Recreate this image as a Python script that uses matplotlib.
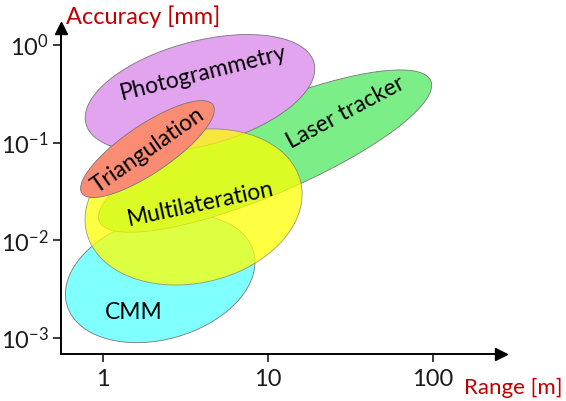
import matplotlib
matplotlib.use("Agg")
import matplotlib.pyplot as plt
import numpy as np

plt.rcParams["font.family"] = ["Lato", "DejaVu Sans"]
plt.rcParams["mathtext.fontset"] = "custom"
plt.rcParams["mathtext.rm"] = "Lato"
plt.rcParams["mathtext.it"] = "Lato:italic"

# measurement techniques: centre of each region (range in m, accuracy in mm)
techniques = ["CMM", "Laser tracker", "Photogrammetry", "Multilateration", "Triangulation"]
center_range = [2.22, 9.6, 3.87, 3.54, 1.86]
center_accuracy = [0.0041, 0.082, 0.32, 0.022, 0.086]

# axis ticks (decades)
x_decades = [0, 1, 2]
x_tick_labels = ["1", "10", "100"]
y_decades = [0, -1, -2, -3]

# region shape: semi-axes in pixels and tilt in degrees
semi_major = [97, 180, 118, 110, 79]
semi_minor = [61, 44, 52, 76, 24]
tilt = [16, 23, 15, 13, 34]
face_colors = ["#80ffff", "#7cee87", "#e2a3ef", "#ffff00", "#fa8c73"]
face_alpha = [1.0, 1.0, 1.0, 0.74, 1.0]
label_angle = [0, 28, 14, 12, 35]
label_offset = [(-26, -34), (80, 38), (3, 20), (7, 3), (0, -1)]

W, H = 566, 401
fig = plt.figure(figsize=(W / 100, H / 100), dpi=100)
ax = fig.add_axes([61 / W, 1 - 354 / H, (501 - 61) / W, (354 - 28) / H])
ax.set_xlim(-0.2545, (501 - 103) / 165)
ax.set_ylim(-3.163, (45 - 28) / 97.7)

# pixels per decade on each axis
p0 = ax.transData.transform((0, 0))
p1 = ax.transData.transform((1, 1))
sx, sy = p1 - p0

t = np.linspace(0, 2 * np.pi, 300)
for i, name in enumerate(techniques):
    cu, cv = np.log10(center_range[i]), np.log10(center_accuracy[i])
    th = np.deg2rad(tilt[i])
    a, b = semi_major[i], semi_minor[i]
    dx = a * np.cos(t) * np.cos(th) - b * np.sin(t) * np.sin(th)
    dy = a * np.cos(t) * np.sin(th) + b * np.sin(t) * np.cos(th)
    ax.fill(cu + dx / sx, cv + dy / sy, facecolor=face_colors[i], alpha=face_alpha[i],
            edgecolor="#777777", linewidth=0.6, zorder=2 + i)

for i, name in enumerate(techniques):
    cu, cv = np.log10(center_range[i]), np.log10(center_accuracy[i])
    ox, oy = label_offset[i]
    ax.text(cu + ox / sx, cv + oy / sy, name, rotation=label_angle[i],
            rotation_mode="anchor", ha="center", va="center", fontsize=16.5,
            color="black", zorder=10)

for side in ["top", "right"]:
    ax.spines[side].set_visible(False)
for side in ["left", "bottom"]:
    ax.spines[side].set_linewidth(1.4)
ax.plot(1, 0, ">k", markersize=9, transform=ax.transAxes, clip_on=False)
ax.plot(0, 1, "^k", markersize=9, transform=ax.transAxes, clip_on=False)

ax.set_xticks(x_decades)
ax.set_xticklabels(x_tick_labels)
ax.set_yticks(y_decades)
ax.set_yticklabels([r"$\mathregular{10^{%d}}$" % d for d in y_decades])
ax.tick_params(direction="out", length=6, width=1.2, labelsize=17, colors="#1a1a1a")
ax.tick_params(axis="x", pad=5)
ax.tick_params(axis="y", pad=3)

fig.text(66 / W, 1 - 17 / H, "Accuracy [mm]", color="#c00000", fontsize=17,
         ha="left", va="center")
fig.text(563 / W, 1 - 388 / H, "Range [m]", color="#c00000", fontsize=16,
         ha="right", va="center")

fig.savefig("out.png", dpi=100)
